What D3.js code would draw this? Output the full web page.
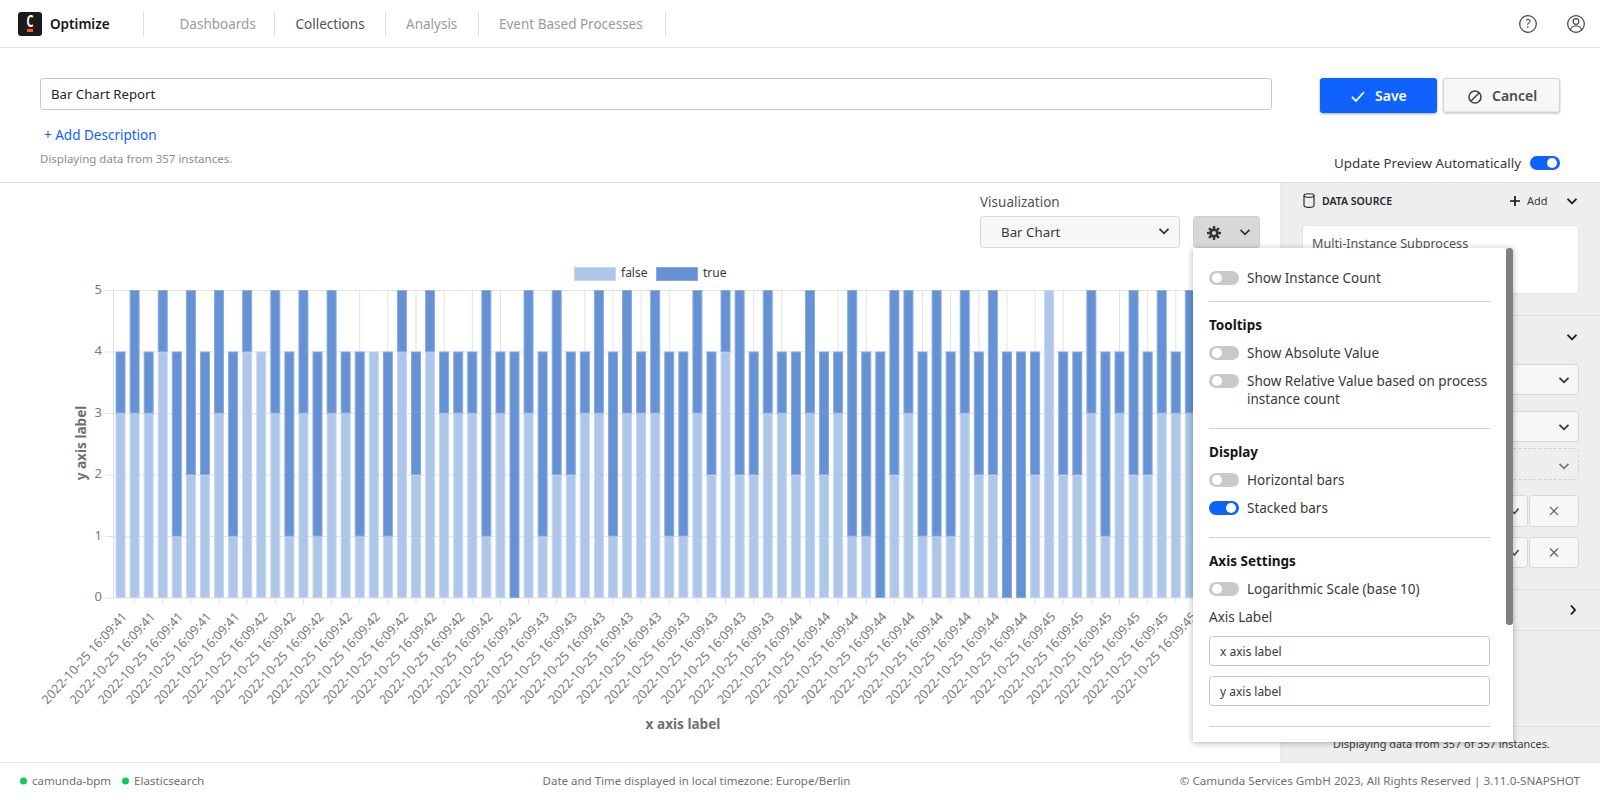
<!DOCTYPE html>
<html>
<head>
<meta charset="utf-8">
<title>Bar Chart Report</title>
<script src="https://cdn.jsdelivr.net/npm/d3@7/dist/d3.min.js"></script>
<style>
html,body{margin:0;padding:0;background:#fff;overflow:hidden}
svg{display:block}
text{font-family:"Noto Sans",sans-serif}
.grid line{stroke:#e2e2e2;stroke-width:1}
.grid path{display:none}
.lab path{display:none}
.lab line{display:none}
</style>
</head>
<body>
<svg id="page" width="1600" height="800"></svg>
<script>
// ---- chart data, one entry per bar ----
const falseValues = [3,3,3,4,1,2,2,3,1,4,4,3,1,3,1,3,3,1,4,1,4,2,4,3,3,3,1,3,0,3,1,2,2,3,3,1,3,3,3,1,1,3,2,4,2,2,3,3,2,3,2,3,1,1,0,2,3,1,1,1,3,2,2,0,0,2,5,2,2,3,1,3,2,2,3,3,3];
const trueValues  = [1,2,1,1,3,3,2,2,3,1,0,2,3,2,3,2,1,3,0,3,1,2,1,1,1,1,4,1,4,2,3,3,2,1,2,3,2,1,2,3,3,2,2,1,3,2,2,1,2,2,2,1,4,3,4,3,2,3,4,3,2,2,3,4,4,2,0,2,2,2,3,1,3,2,2,1,2];
const tickLabels  = ["2022-10-25 16:09:41","2022-10-25 16:09:41","2022-10-25 16:09:41","2022-10-25 16:09:41","2022-10-25 16:09:41",
"2022-10-25 16:09:42","2022-10-25 16:09:42","2022-10-25 16:09:42","2022-10-25 16:09:42","2022-10-25 16:09:42","2022-10-25 16:09:42","2022-10-25 16:09:42","2022-10-25 16:09:42","2022-10-25 16:09:42","2022-10-25 16:09:42",
"2022-10-25 16:09:43","2022-10-25 16:09:43","2022-10-25 16:09:43","2022-10-25 16:09:43","2022-10-25 16:09:43","2022-10-25 16:09:43","2022-10-25 16:09:43","2022-10-25 16:09:43","2022-10-25 16:09:43",
"2022-10-25 16:09:44","2022-10-25 16:09:44","2022-10-25 16:09:44","2022-10-25 16:09:44","2022-10-25 16:09:44","2022-10-25 16:09:44","2022-10-25 16:09:44","2022-10-25 16:09:44","2022-10-25 16:09:44",
"2022-10-25 16:09:45","2022-10-25 16:09:45","2022-10-25 16:09:45","2022-10-25 16:09:45","2022-10-25 16:09:45","2022-10-25 16:09:45"];
const seriesNames = ["false","true"];
const yTicks = [0,1,2,3,4,5];
const navItems = ["Dashboards","Collections","Analysis","Event Based Processes"];

const svg = d3.select("#page");
const BLUE = "#0f62fe";

function t(x,y,str,o={}){
  return svg.append("text").attr("x",x).attr("y",y).attr("dy","0.35em")
    .attr("font-size",o.size||14).attr("fill",o.fill||"#393939")
    .attr("font-weight",o.weight||400).attr("text-anchor",o.anchor||"start")
    .attr("letter-spacing",o.ls||0).text(str);
}
function box(x0,y0,x1,y1,fill,stroke,r=3,extra={}){
  const s=svg.append("rect").attr("x",x0+.5).attr("y",y0+.5).attr("width",x1-x0-1).attr("height",y1-y0-1)
    .attr("rx",r).attr("fill",fill).attr("stroke",stroke);
  if(extra.dash) s.attr("stroke-dasharray",extra.dash);
  if(extra.style) s.attr("style",extra.style);
  return s;
}
function hline(x0,x1,y,c="#dcdcdc"){svg.append("line").attr("x1",x0).attr("x2",x1).attr("y1",y+.5).attr("y2",y+.5).attr("stroke",c);}
function vline(x,y0,y1,c="#dcdcdc"){svg.append("line").attr("x1",x+.5).attr("x2",x+.5).attr("y1",y0).attr("y2",y1).attr("stroke",c);}
function chevron(x,y,c="#333",w=1.8){
  svg.append("path").attr("d",`M${x-4.5} ${y-2.2}L${x} ${y+2.3}L${x+4.5} ${y-2.2}`).attr("fill","none").attr("stroke",c).attr("stroke-width",w);
}
function toggle(x,y,on){
  svg.append("rect").attr("x",x).attr("y",y-7).attr("width",30).attr("height",14).attr("rx",7).attr("fill",on?BLUE:"#c9c9c9");
  svg.append("circle").attr("cx",on?x+22:x+8).attr("cy",y).attr("r",5).attr("fill","#fff");
}

// ---- top navigation ----
svg.append("rect").attr("x",18).attr("y",12).attr("width",24).attr("height",24).attr("rx",3).attr("fill","#1c1c1c");
svg.append("text").attr("transform","translate(30,27) scale(0.72,1.05)").attr("text-anchor","middle")
  .attr("font-size",15).attr("font-weight",700).attr("fill","#fff").text("C");
svg.append("rect").attr("x",27).attr("y",29).attr("width",6).attr("height",3).attr("fill","#fc5d0d");
t(50,24,"Optimize",{size:13.5,weight:600,fill:"#161616"});
hline(0,1600,47,"#e0e0e0");
[143,274,385,478,665].forEach(x=>vline(x,12,36,"#dedede"));
const navX=[179.5,295.5,406,499];
navItems.forEach((n,i)=>t(navX[i],24,n,{size:13.5,fill:n==="Collections"?"#525252":"#9a9a9a"}));
svg.append("circle").attr("cx",1528).attr("cy",24).attr("r",8.3).attr("fill","none").attr("stroke","#444").attr("stroke-width",1.2);
t(1528,24,"?",{size:12,anchor:"middle",fill:"#444"});
svg.append("circle").attr("cx",1576).attr("cy",24).attr("r",8.3).attr("fill","none").attr("stroke","#444").attr("stroke-width",1.2);
svg.append("circle").attr("cx",1576).attr("cy",21.5).attr("r",2.8).attr("fill","none").attr("stroke","#444").attr("stroke-width",1.2);
svg.append("path").attr("d","M1570.5 30.5c0-6 11-6 11 0").attr("fill","none").attr("stroke","#444").attr("stroke-width",1.2);

// ---- report header ----
box(40,78,1272,110,"#fff","#c6c6c6");
t(51,94,"Bar Chart Report",{size:13.2,fill:"#262626"});
t(44,135,"+ Add Description",{size:13.5,fill:BLUE});
t(40,158.5,"Displaying data from 357 instances.",{size:11.5,fill:"#8d8d8d"});
box(1320,78,1437,113,BLUE,BLUE,2,{style:"filter:drop-shadow(0 1px 1px rgba(0,0,0,.35))"});
svg.append("path").attr("d","M1352 97l4 4 8-9").attr("fill","none").attr("stroke","#fff").attr("stroke-width",1.8);
t(1375,96,"Save",{size:14,weight:600,fill:"#fff"});
box(1443,78,1560,112.5,"#f7f7f7","#d4d4d4",2,{style:"filter:drop-shadow(0 1px 1px rgba(0,0,0,.25))"});
svg.append("circle").attr("cx",1475).attr("cy",97).attr("r",6).attr("fill","none").attr("stroke","#444").attr("stroke-width",1.6);
svg.append("line").attr("x1",1471).attr("x2",1479).attr("y1",101).attr("y2",93).attr("stroke","#444").attr("stroke-width",1.6);
t(1492,96,"Cancel",{size:14,weight:600,fill:"#4a4a4a"});
t(1334,163,"Update Preview Automatically",{size:13.35,fill:"#393939"});
toggle(1530,163,true);
hline(0,1600,182,"#dcdcdc");

// ---- right sidebar ----
svg.append("rect").attr("x",1281).attr("y",183).attr("width",319).attr("height",579).attr("fill","#eeeeee");
vline(1280.5,183,762,"#dcdcdc");
svg.append("ellipse").attr("cx",1309).attr("cy",195.5).attr("rx",5).attr("ry",1.8).attr("fill","none").attr("stroke","#222").attr("stroke-width",1.1);
svg.append("path").attr("d","M1304 195.5v10c0 2.5 10 2.5 10 0v-10").attr("fill","none").attr("stroke","#222").attr("stroke-width",1.1);
t(1322,201,"DATA SOURCE",{size:10.5,weight:600,fill:"#262626"});
svg.append("path").attr("d","M1515 196v10M1510 201h10").attr("stroke","#161616").attr("stroke-width",1.7);
t(1527,201,"Add",{size:11,fill:"#393939"});
chevron(1572,201,"#161616");
box(1302,225,1579,294,"#fff","#e4e4e4");
t(1312,244,"Multi-Instance Subprocess",{size:12.6,fill:"#525252"});
hline(1281,1600,315);
chevron(1572,337,"#161616");
box(1400,364,1579,395,"#f7f7f7","#d6d6d6"); chevron(1564,380,"#333");
box(1400,411,1579,442,"#f7f7f7","#d6d6d6"); chevron(1564,427,"#333");
box(1400,448,1579,480,"#eeeeee","#cfcfcf",3,{dash:"3 2"}); chevron(1564,466,"#777");
[[495,527],[537,568]].forEach(([a,b])=>{
  box(1400,a,1528,b,"#f7f7f7","#d6d6d6");
  box(1529,a,1579,b,"#f7f7f7","#d6d6d6");
  const c=(a+b)/2;
  svg.append("path").attr("d",`M1512 ${c}l2.5 2.5 4-5`).attr("fill","none").attr("stroke","#444").attr("stroke-width",1.5);
  svg.append("path").attr("d",`M1550 ${c-4}l8 8M1558 ${c-4}l-8 8`).attr("stroke","#666").attr("stroke-width",1.2);
});
hline(1281,1600,589);
svg.append("path").attr("d","M1571 605.5l4 4.5-4 4.5").attr("fill","none").attr("stroke","#161616").attr("stroke-width",1.8);
hline(1281,1600,630);
hline(1281,1600,726);
t(1333,744,"Displaying data from 357 of 357 instances.",{size:10.9,fill:"#393939"});

// ---- chart ----
const n = falseValues.length;
const x = d3.scaleBand().domain(d3.range(n)).range([113.5,113.5+n*14.07]).paddingInner(0.29).paddingOuter(0.145);
const y = d3.scaleLinear().domain([0,5]).range([597.5,290]);
const chart = svg.append("g");

chart.append("g").attr("class","grid").attr("transform","translate(113.5,0)")
  .call(d3.axisLeft(y).tickValues(yTicks).tickSize(-1090,0).tickFormat("").tickSizeOuter(0))
  .call(g=>g.selectAll("line").attr("x2",1100).attr("x1",-8));
const oddIdx = d3.range(n).filter(i=>i%2===1);
chart.append("g").attr("class","grid").attr("transform","translate(0,290)")
  .call(d3.axisBottom(x).tickValues(oddIdx).tickFormat("").tickSizeOuter(0).tickSize(0).offset(0))
  .call(g=>g.selectAll("line").attr("y1",0).attr("y2",314));
chart.append("line").attr("x1",113.5).attr("x2",113.5).attr("y1",290).attr("y2",597.5).attr("stroke","#dcdcdc");

chart.append("g").selectAll("text").data(yTicks).join("text")
  .attr("x",102).attr("y",d=>y(d)-1).attr("dy","0.36em").attr("text-anchor","end")
  .attr("font-size",13).attr("fill","#7a7a7a").text(d=>d);

const stacked = d3.stack().keys(seriesNames)(d3.range(n).map(i=>({false:falseValues[i],true:trueValues[i]})));
const fills = d3.scaleOrdinal().domain(seriesNames).range(["#aec7e9","#6592d5"]);
const strokes = d3.scaleOrdinal().domain(seriesNames).range(["#c5d7f0","#8aaae0"]);
chart.selectAll("g.series").data(stacked).join("g").attr("class","series")
  .attr("fill",d=>fills(d.key)).attr("stroke",d=>strokes(d.key))
  .selectAll("rect").data(d=>d.map((v,i)=>({v,i})).filter(o=>o.v[1]>o.v[0])).join("rect")
  .attr("x",o=>x(o.i)+.5).attr("width",x.bandwidth()-1)
  .attr("y",o=>y(o.v[1])+.5).attr("height",o=>y(o.v[0])-y(o.v[1])-.5);

const evenIdx = d3.range(n).filter(i=>i%2===0);
chart.append("g").attr("class","lab").attr("transform","translate(0,612)")
  .call(d3.axisBottom(x).tickValues(evenIdx).tickSize(0).offset(0).tickPadding(0)
    .tickFormat(i=>tickLabels[i/2]))
  .call(g=>g.selectAll("text").attr("y",0).attr("dy","0.7em").attr("x",1)
    .attr("transform","rotate(-47.5)").attr("text-anchor","end")
    .attr("font-size",12.6).attr("fill","#7a7a7a").attr("font-family",'"Noto Sans",sans-serif'));

svg.append("text").attr("transform","translate(81,443) rotate(-90)").attr("text-anchor","middle").attr("dy","0.35em")
  .attr("font-size",13.6).attr("font-weight",700).attr("fill","#6f6f6f").text("y axis label");
t(683,724,"x axis label",{size:13.6,weight:700,fill:"#6f6f6f",anchor:"middle"});

const legendX=[574.5,656.5], legendTX=[621,703];
seriesNames.forEach((s,i)=>{
  svg.append("rect").attr("x",legendX[i]).attr("y",267.5).attr("width",41).attr("height",13)
    .attr("fill",fills(s)).attr("stroke",strokes(s));
  t(legendTX[i],272.5,s,{size:12,fill:"#393939"});
});

// ---- visualization controls ----
t(980,202,"Visualization",{size:13.5,fill:"#525252"});
box(980,216,1180,248,"#f7f7f7","#d6d6d6");
t(1001,232,"Bar Chart",{size:13.3,fill:"#393939"});
chevron(1164,231,"#333");
box(1193,216,1260,248,"#d8d8d8","#cfcfcf");
const gear = svg.append("g").attr("transform","translate(1214,233)");
gear.selectAll("line").data(d3.range(4)).join("line")
  .attr("x1",0).attr("y1",-7).attr("x2",0).attr("y2",7).attr("stroke","#333").attr("stroke-width",2.4)
  .attr("transform",d=>`rotate(${d*45})`);
gear.append("circle").attr("r",4.6).attr("fill","#333");
gear.append("circle").attr("r",2).attr("fill","#d8d8d8");
chevron(1245,232,"#333");

// ---- settings popover ----
svg.append("rect").attr("x",1193).attr("y",248).attr("width",320).attr("height",494).attr("fill","#fff")
  .attr("style","filter:drop-shadow(0 1px 3px rgba(0,0,0,.3))");
svg.append("rect").attr("x",1506).attr("y",248).attr("width",7).attr("height",377).attr("rx",3).attr("fill","#808080");
[[278,"Show Instance Count",false],[353,"Show Absolute Value",false],[381,"Show Relative Value based on process",false],
 [480,"Horizontal bars",false],[508,"Stacked bars",true],[589,"Logarithmic Scale (base 10)",false]].forEach(([yy,l,on])=>{
  toggle(1209,yy,on); t(1247,yy,l,{size:13.5,fill:"#393939"});
});
t(1247,399,"instance count",{size:13.5,fill:"#393939"});
[301,428,537,726].forEach(yy=>hline(1209,1490,yy,"#cfcfcf"));
[[325,"Tooltips"],[452,"Display"],[561,"Axis Settings"]].forEach(([yy,l])=>t(1209,yy,l,{size:13.5,weight:700,fill:"#161616"}));
t(1209,617,"Axis Label",{size:13.5,fill:"#393939"});
box(1209,636,1490,666,"#fff","#c6c6c6");
t(1220,652,"x axis label",{size:12,fill:"#393939"});
box(1209,676,1490,706,"#fff","#c6c6c6");
t(1220,692,"y axis label",{size:12,fill:"#393939"});

// ---- footer ----
hline(0,1600,762,"#e6e6e6");
svg.append("circle").attr("cx",23.5).attr("cy",781).attr("r",3.5).attr("fill","#10c95d");
t(32,781,"camunda-bpm",{size:11.5,fill:"#6f6f6f"});
svg.append("circle").attr("cx",125.5).attr("cy",781).attr("r",3.5).attr("fill","#10c95d");
t(134,781,"Elasticsearch",{size:11.6,fill:"#6f6f6f"});
t(696.5,781,"Date and Time displayed in local timezone: Europe/Berlin",{size:11.5,fill:"#6f6f6f",anchor:"middle"});
t(1580,781,"\u00a9 Camunda Services GmbH 2023, All Rights Reserved | 3.11.0-SNAPSHOT",{size:11.65,fill:"#6f6f6f",anchor:"end"});
</script>
</body>
</html>
